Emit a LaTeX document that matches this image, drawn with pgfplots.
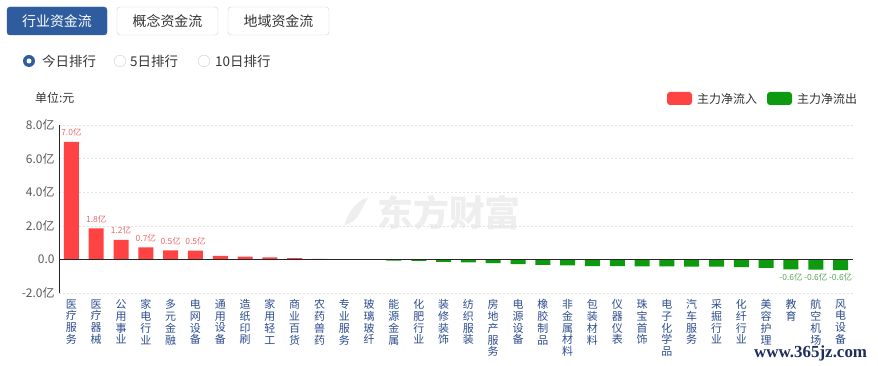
\documentclass[border=0pt]{standalone}
\usepackage{pgfplots}
\pgfplotsset{compat=1.18}
\usepackage{fontspec}
\setmainfont{Noto Sans CJK SC}
\newfontfamily\wmfont{Liberation Serif}
\definecolor{btnblue}{HTML}{2F5C9E}
\definecolor{btnborder}{HTML}{C9CFD9}
\definecolor{barred}{HTML}{FF4242}
\definecolor{bargreen}{HTML}{0E9A0E}
\definecolor{labred}{HTML}{E86A6A}
\definecolor{labgreen}{HTML}{5CA35C}
\definecolor{xlab}{HTML}{2B4C8E}
\definecolor{txt}{HTML}{333333}
\definecolor{gridc}{HTML}{E2E2E2}
\definecolor{wmgray}{HTML}{EEEEEE}
\definecolor{wmblue}{HTML}{1E2D5A}
\begin{document}
\begin{tikzpicture}
\useasboundingbox (0bp,0bp) rectangle (878bp,366bp);
% buttons
\draw[rounded corners=3bp, fill=btnblue, draw=btnblue] (7bp,331bp) rectangle (107bp,359bp);
\node[text=white, font=\fontsize{14}{15}\selectfont] at (57bp,345bp) {行业资金流};
\draw[rounded corners=3bp, fill=white, draw=btnborder] (117bp,331bp) rectangle (218bp,359bp);
\node[text=txt, font=\fontsize{14}{15}\selectfont] at (167.5bp,345bp) {概念资金流};
\draw[rounded corners=3bp, fill=white, draw=btnborder] (228bp,331bp) rectangle (329bp,359bp);
\node[text=txt, font=\fontsize{14}{15}\selectfont] at (278.5bp,345bp) {地域资金流};
% radios
\fill[btnblue] (29bp,305bp) circle (6bp);
\fill[white] (29bp,305bp) circle (2.5bp);
\node[anchor=west, inner sep=0pt, text=txt, font=\fontsize{13.5}{14}\selectfont] at (42bp,305bp) {今日排行};
\draw[draw=btnborder, fill=white] (120bp,305bp) circle (5.8bp);
\node[anchor=west, inner sep=0pt, text=txt, font=\fontsize{13.5}{14}\selectfont] at (130bp,305bp) {5日排行};
\draw[draw=btnborder, fill=white] (204bp,305bp) circle (5.8bp);
\node[anchor=west, inner sep=0pt, text=txt, font=\fontsize{13.5}{14}\selectfont] at (215bp,305bp) {10日排行};
% unit
\node[anchor=west, inner sep=0pt, text=txt, font=\fontsize{12}{13}\selectfont] at (35bp,268bp) {单位:元};
% legend
\fill[barred, rounded corners=3bp] (667bp,261bp) rectangle (692bp,274bp);
\node[anchor=west, inner sep=0pt, text=txt, font=\fontsize{12}{13}\selectfont] at (697bp,267.5bp) {主力净流入};
\fill[bargreen, rounded corners=3bp] (767bp,261bp) rectangle (792bp,274bp);
\node[anchor=west, inner sep=0pt, text=txt, font=\fontsize{12}{13}\selectfont] at (797bp,267.5bp) {主力净流出};
% watermarks
\node[text=wmgray, font=\fontsize{36}{40}\selectfont\bfseries] at (449bp,153bp) {东方财富};
\fill[wmgray] (344bp,140bp) .. controls (350bp,160bp) and (362bp,168bp) .. (368bp,168bp) -- (358bp,150bp) .. controls (354bp,145bp) .. (344bp,140bp) -- cycle;
\begin{axis}[
  at={(59bp,73bp)}, anchor=south west,
  width=794bp, height=168bp, scale only axis,
  ymin=-2, ymax=8, xmin=-0.5, xmax=31.5,
  ytick={-2,0,2,4,6,8},
  yticklabels={-2.0亿,0.0,2.0亿,4.0亿,6.0亿,8.0亿},
  xtick={0,...,31},
  xticklabels={{医\\疗\\服\\务},{医\\疗\\器\\械},{公\\用\\事\\业},{家\\电\\行\\业},{多\\元\\金\\融},{电\\网\\设\\备},{通\\用\\设\\备},{造\\纸\\印\\刷},{家\\用\\轻\\工},{商\\业\\百\\货},{农\\药\\兽\\药},{专\\业\\服\\务},{玻\\璃\\玻\\纤},{能\\源\\金\\属},{化\\肥\\行\\业},{装\\修\\装\\饰},{纺\\织\\服\\装},{房\\地\\产\\服\\务},{电\\源\\设\\备},{橡\\胶\\制\\品},{非\\金\\属\\材\\料},{包\\装\\材\\料},{仪\\器\\仪\\表},{珠\\宝\\首\\饰},{电\\子\\化\\学\\品},{汽\\车\\服\\务},{采\\掘\\行\\业},{化\\纤\\行\\业},{美\\容\\护\\理},{教\\育},{航\\空\\机\\场},{风\\电\\设\\备}},
  xticklabel style={align=center, anchor=north, text=xlab, font=\fontsize{11}{11.8}\selectfont, yshift=-3bp},
  yticklabel style={text=black!65, font=\fontsize{12}{13}\selectfont, xshift=-1bp},
  axis lines*=left,
  x axis line style={draw=none},
  y axis line style={draw=black!85, line width=0.8pt},
  major tick length=0pt,
  ymajorgrids,
  grid style={gridc, dash pattern=on 2bp off 2bp, line width=0.6pt},
  ybar, bar width=15bp,
  clip=false,
]
\addplot[ybar, bar shift=0pt, fill=barred, draw=none] coordinates {
(0,7.0) (1,1.84) (2,1.16) (3,0.72) (4,0.54) (5,0.52) (6,0.21) (7,0.16) (8,0.12) (9,0.08) (10,0.03) (11,0.01)
};
\addplot[ybar, bar shift=0pt, fill=bargreen, draw=none] coordinates {
(12,-0.005) (13,-0.08) (14,-0.09) (15,-0.14) (16,-0.18) (17,-0.22) (18,-0.28) (19,-0.32) (20,-0.36) (21,-0.40) (22,-0.40) (23,-0.42) (24,-0.42) (25,-0.43) (26,-0.43) (27,-0.46) (28,-0.50) (29,-0.60) (30,-0.61) (31,-0.64)
};
\addplot[ybar, bar shift=0pt, draw=none, fill=none, point meta=explicit symbolic,
  nodes near coords, nodes near coords style={anchor=south, text=labred, font=\fontsize{8.5}{9}\selectfont, yshift=2bp}] coordinates {
(0,7.0) [7.0亿] (1,1.84) [1.8亿] (2,1.16) [1.2亿] (3,0.72) [0.7亿] (4,0.54) [0.5亿] (5,0.52) [0.5亿]
};
\addplot[ybar, bar shift=0pt, draw=none, fill=none, point meta=explicit symbolic,
  nodes near coords, nodes near coords style={anchor=north, text=labgreen, font=\fontsize{8.5}{9}\selectfont}] coordinates {
(29,-0.60) [-0.6亿] (30,-0.61) [-0.6亿] (31,-0.64) [-0.6亿]
};
\draw[black!85, line width=0.8pt] (axis cs:-0.5,0) -- (axis cs:31.5,0);
\end{axis}
\node[anchor=west, inner sep=0pt, text=wmblue, font=\wmfont\fontsize{17}{18}\selectfont\bfseries] at (754bp,13bp) {www.365jz.com};
\end{tikzpicture}
\end{document}
